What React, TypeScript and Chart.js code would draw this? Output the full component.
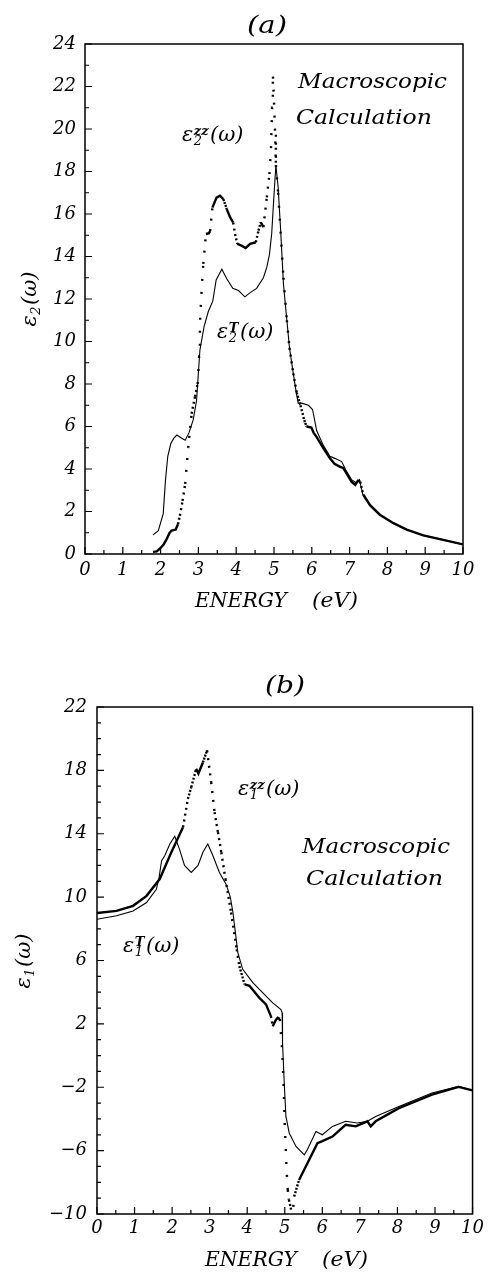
import React, { useEffect, useRef } from "react";
import { Chart, registerables } from "chart.js";

Chart.register(...registerables);

const FONT = '"DejaVu Serif", serif';

// ---------- tick labels ----------
const energyTicks = [0, 1, 2, 3, 4, 5, 6, 7, 8, 9, 10];
const eps2TickLabels = [0, 2, 4, 6, 8, 10, 12, 14, 16, 18, 20, 22, 24];
const eps1TickLabels = [-10, -6, -2, 2, 6, 10, 14, 18, 22];

// ---------- panel (a): eps2 ----------
const energyA_T = [1.80, 1.94, 2.07, 2.13, 2.19, 2.27, 2.35, 2.43, 2.56, 2.65, 2.75, 2.86, 2.95, 3.04, 3.15, 3.26, 3.38, 3.47, 3.62, 3.75, 3.91, 4.06, 4.23, 4.37, 4.54, 4.72, 4.81, 4.88, 4.94, 5.00, 5.05, 5.11, 5.18, 5.25, 5.34, 5.41, 5.51, 5.58, 5.64, 5.73, 5.91, 6.02, 6.13, 6.31, 6.48, 6.61, 6.79, 6.90, 7.05, 7.17, 7.26, 7.35, 7.54, 7.80, 8.16, 8.51, 8.95, 9.39, 10.0];
const eps2_T = [0.9, 1.1, 1.9, 3.5, 4.6, 5.2, 5.45, 5.6, 5.45, 5.35, 5.7, 6.3, 7.2, 9.6, 10.7, 11.4, 11.9, 12.9, 13.4, 12.95, 12.5, 12.4, 12.1, 12.3, 12.5, 13.0, 13.5, 14.1, 15.1, 16.9, 18.3, 17.25, 15.1, 12.7, 11.0, 9.7, 8.5, 7.7, 7.1, 7.1, 7.0, 6.8, 5.8, 5.1, 4.6, 4.5, 4.35, 3.95, 3.5, 3.35, 3.5, 2.8, 2.3, 1.85, 1.45, 1.15, 0.87, 0.7, 0.45];

const energyA_zz = [1.80, 1.90, 1.98, 2.08, 2.16, 2.24, 2.29, 2.40, 2.46, 2.51, 2.58, 2.65, 2.73, 2.82, 2.91, 2.98, 3.02, 3.04, 3.09, 3.13, 3.20, 3.28, 3.31, 3.37, 3.48, 3.57, 3.66, 3.75, 3.84, 3.92, 3.97, 4.03, 4.14, 4.25, 4.37, 4.52, 4.59, 4.65, 4.72, 4.81, 4.88, 4.92, 4.95, 4.97, 5.00, 5.03, 5.05, 5.11, 5.18, 5.25, 5.34, 5.41, 5.51, 5.60, 5.70, 5.80, 5.86, 5.99, 6.05, 6.13, 6.30, 6.48, 6.60, 6.75, 6.83, 6.90, 7.05, 7.15, 7.22, 7.28, 7.36, 7.54, 7.80, 8.16, 8.51, 8.95, 9.39, 10.0];
const eps2_zz = [0.10, 0.12, 0.25, 0.45, 0.70, 1.00, 1.10, 1.15, 1.40, 1.80, 2.50, 3.30, 5.00, 6.60, 7.40, 8.00, 9.30, 10.8, 12.6, 13.65, 15.06, 15.1, 15.2, 16.3, 16.77, 16.86, 16.7, 16.23, 15.84, 15.6, 15.06, 14.59, 14.51, 14.4, 14.6, 14.67, 15.22, 15.61, 15.38, 16.78, 17.88, 19.05, 21.0, 22.6, 21.3, 19.8, 18.3, 17.0, 15.0, 13.0, 11.0, 9.7, 8.5, 7.6, 7.0, 6.3, 6.0, 5.95, 5.7, 5.5, 5.0, 4.5, 4.25, 4.1, 4.05, 3.85, 3.4, 3.25, 3.45, 3.4, 2.8, 2.3, 1.85, 1.45, 1.15, 0.88, 0.7, 0.45];

// ---------- panel (b): eps1 ----------
const energyB_T = [0, 0.52, 0.96, 1.32, 1.58, 1.65, 1.72, 1.80, 1.94, 2.07, 2.20, 2.33, 2.51, 2.69, 2.82, 2.95, 3.09, 3.26, 3.44, 3.55, 3.62, 3.75, 3.88, 4.15, 4.41, 4.68, 4.90, 4.93, 4.94, 4.99, 5.03, 5.12, 5.30, 5.52, 5.60, 5.83, 6.00, 6.27, 6.62, 6.93, 7.20, 7.42, 8.04, 8.92, 9.63, 10.0];
const eps1_T = [8.6, 8.82, 9.13, 9.66, 10.5, 11.2, 12.3, 12.6, 13.35, 13.84, 13.0, 12.0, 11.56, 12.0, 12.83, 13.35, 12.6, 11.56, 10.8, 10.0, 9.03, 6.5, 5.44, 4.6, 3.97, 3.33, 2.9, 2.7, 0.8, -1.94, -3.84, -4.9, -5.74, -6.27, -5.95, -4.79, -5.0, -4.47, -4.15, -4.26, -4.15, -3.84, -3.21, -2.36, -1.94, -2.2];

const energyB_zz = [0, 0.52, 0.96, 1.32, 1.67, 1.98, 2.29, 2.42, 2.51, 2.64, 2.70, 2.82, 2.93, 3.04, 3.13, 3.22, 3.31, 3.42, 3.57, 3.72, 3.79, 3.93, 4.06, 4.32, 4.50, 4.63, 4.68, 4.75, 4.81, 4.87, 4.93, 4.97, 5.00, 5.03, 5.05, 5.08, 5.11, 5.16, 5.20, 5.25, 5.38, 5.65, 5.87, 6.00, 6.27, 6.62, 6.89, 7.20, 7.29, 7.42, 8.04, 8.92, 9.63, 10.0];
const eps1_zz = [9.0, 9.13, 9.45, 10.08, 11.14, 12.83, 14.41, 16.2, 16.94, 18.1, 17.8, 18.5, 19.26, 17.26, 15.36, 14.1, 12.83, 11.14, 9.03, 6.7, 5.65, 4.49, 4.4, 3.65, 3.23, 2.49, 1.85, 2.2, 2.38, 2.3, 0.38, -1.94, -4.37, -6.06, -7.32, -8.48, -9.1, -9.6, -10.3, -8.9, -7.85, -6.58, -5.53, -5.4, -5.11, -4.37, -4.47, -4.15, -4.47, -4.15, -3.32, -2.47, -1.98, -2.2];

function toPoints(xs: number[], ys: number[]) {
  const n = Math.min(xs.length, ys.length);
  const out: { x: number; y: number }[] = [];
  for (let i = 0; i < n; i++) out.push({ x: xs[i], y: ys[i] });
  return out;
}

// dotted curve: dots sampled evenly in energy -> dense (solid) where flat, sparse where steep
const dotDash = (c: any) => {
  const dx = Math.abs(c.p1.x - c.p0.x);
  const dy = Math.abs(c.p1.y - c.p0.y);
  const len = Math.hypot(dx, dy);
  if (len < 0.01) return [];
  let spacing = (1.0 * len) / Math.max(dx, 0.05);
  if (spacing < 2.8) return [];
  spacing = Math.min(spacing, 13);
  return [2, spacing - 2];
};

function fitText(ctx: CanvasRenderingContext2D, text: string, x: number, base: number, size: number, w: number) {
  ctx.save();
  ctx.font = `italic ${size}px ${FONT}`;
  const m = ctx.measureText(text).width;
  ctx.translate(x, base);
  ctx.scale(w / m, 1);
  ctx.textAlign = "left";
  ctx.textBaseline = "alphabetic";
  ctx.fillText(text, 0, 0);
  ctx.restore();
}

function mathWidth(ctx: CanvasRenderingContext2D, sub: string, sup: string, size: number) {
  ctx.font = `italic ${size}px ${FONT}`;
  const w1 = ctx.measureText("\u03b5").width;
  const w3 = ctx.measureText("(\u03c9)").width;
  const s = Math.round(size * 0.6);
  ctx.font = `italic ${s}px ${FONT}`;
  const ws = Math.max(sup ? ctx.measureText(sup).width : 0, ctx.measureText(sub).width);
  return w1 + ws + 2 + w3;
}

function drawMath(ctx: CanvasRenderingContext2D, x: number, base: number, sub: string, sup: string, size: number) {
  ctx.save();
  ctx.textAlign = "left";
  ctx.textBaseline = "alphabetic";
  ctx.fillStyle = "#000";
  ctx.font = `italic ${size}px ${FONT}`;
  ctx.fillText("\u03b5", x, base);
  const w1 = ctx.measureText("\u03b5").width;
  const s = Math.round(size * 0.6);
  ctx.font = `italic ${s}px ${FONT}`;
  let ws = ctx.measureText(sub).width;
  if (sup) {
    ctx.font = `italic bold ${s}px ${FONT}`;
    ws = Math.max(ws, ctx.measureText(sup).width);
    ctx.fillText(sup, x + w1 + 0.5, base - size * 0.3);
  }
  ctx.font = `italic ${s}px ${FONT}`;
  ctx.fillText(sub, x + w1 + 0.5, base + size * 0.2);
  ctx.font = `italic ${size}px ${FONT}`;
  ctx.fillText("(\u03c9)", x + w1 + ws + 2, base);
  ctx.restore();
}

type PanelCfg = {
  height: number;
  top: number;
  padTop: number;
  padRight: number;
  yWidth: number;
  xHeight: number;
  xPad: number;
  yPad: number;
  yMin: number;
  yMax: number;
  yTicks: number[];
  datasets: any[];
  annotate: (ctx: CanvasRenderingContext2D) => void;
};

function makeDecor(cfg: PanelCfg) {
  return {
    id: "decor",
    afterDraw(chart: any) {
      const { ctx, chartArea: a } = chart;
      const xs = chart.scales.x;
      const ys = chart.scales.y;
      ctx.save();
      ctx.strokeStyle = "#000";
      ctx.fillStyle = "#000";
      ctx.lineWidth = 1.5;
      ctx.strokeRect(a.left, a.top, a.right - a.left, a.bottom - a.top);
      ctx.lineWidth = 1.2;
      ctx.beginPath();
      for (let v = xs.min; v <= xs.max + 1e-9; v += 0.5) {
        const px = xs.getPixelForValue(v);
        const major = Math.abs(v - Math.round(v)) < 1e-6;
        ctx.moveTo(px, a.bottom);
        ctx.lineTo(px, a.bottom - (major ? 7 : 4));
      }
      for (let v = ys.min; v <= ys.max + 1e-9; v += 1) {
        const py = ys.getPixelForValue(v);
        const major = cfg.yTicks.indexOf(Math.round(v)) >= 0;
        ctx.moveTo(a.left, py);
        ctx.lineTo(a.left + (major ? 7 : 4), py);
      }
      ctx.stroke();
      cfg.annotate(ctx);
      ctx.restore();
    },
  };
}

function Panel({ cfg }: { cfg: PanelCfg }) {
  const ref = useRef<HTMLCanvasElement>(null);
  useEffect(() => {
    const tickFont = { family: FONT, style: "italic" as const, size: 18 };
    const chart = new Chart(ref.current as HTMLCanvasElement, {
      type: "line",
      data: { datasets: cfg.datasets },
      options: {
        responsive: false,
        animation: false,
        events: [],
        layout: { padding: { left: 0, top: cfg.padTop, right: cfg.padRight, bottom: 0 } },
        plugins: { legend: { display: false }, tooltip: { enabled: false }, title: { display: false } },
        scales: {
          x: {
            type: "linear",
            min: 0,
            max: 10,
            afterBuildTicks: (s: any) => {
              s.ticks = energyTicks.map((v) => ({ value: v }));
            },
            ticks: { font: tickFont, color: "#000", padding: cfg.xPad, maxRotation: 0, autoSkip: false },
            grid: { display: false, drawTicks: false },
            border: { display: false },
            afterFit: (s: any) => {
              s.height = cfg.xHeight;
            },
          },
          y: {
            type: "linear",
            min: cfg.yMin,
            max: cfg.yMax,
            afterBuildTicks: (s: any) => {
              s.ticks = cfg.yTicks.map((v) => ({ value: v }));
            },
            ticks: {
              font: tickFont,
              color: "#000",
              padding: cfg.yPad,
              autoSkip: false,
              callback: (v: any) => String(v).replace("-", "\u2212"),
            },
            grid: { display: false, drawTicks: false },
            border: { display: false },
            afterFit: (s: any) => {
              s.width = cfg.yWidth;
            },
          },
        },
      } as any,
      plugins: [makeDecor(cfg)],
    });
    return () => chart.destroy();
  }, []);
  return (
    <canvas
      ref={ref}
      width={488}
      height={cfg.height}
      style={{ position: "absolute", left: 0, top: cfg.top, width: 488, height: cfg.height, display: "block" }}
    />
  );
}

const solidStyle = { borderColor: "#000", borderWidth: 1.1, pointRadius: 0, tension: 0, fill: false };
const dottedStyle = {
  borderColor: "#000",
  borderWidth: 2.4,
  pointRadius: 0,
  tension: 0,
  fill: false,
  borderCapStyle: "butt",
  segment: { borderDash: dotDash },
};

const panelA: PanelCfg = {
  height: 640,
  top: 0,
  padTop: 44,
  padRight: 25,
  yWidth: 85,
  xHeight: 86,
  xPad: 6,
  yPad: 9,
  yMin: 0,
  yMax: 24,
  yTicks: eps2TickLabels,
  datasets: [
    { label: "eps2 T", data: toPoints(energyA_T, eps2_T), ...solidStyle },
    { label: "eps2 zz", data: toPoints(energyA_zz, eps2_zz), ...dottedStyle },
  ],
  annotate: (ctx) => {
    fitText(ctx, "(a)", 247, 33, 24, 40);
    fitText(ctx, "Macroscopic", 298, 88, 20, 149);
    fitText(ctx, "Calculation", 296, 124, 20, 136);
    drawMath(ctx, 182, 141, "2", "zz", 21);
    drawMath(ctx, 217, 338, "2", "T", 21);
    fitText(ctx, "ENERGY", 195, 607, 20, 92);
    fitText(ctx, "(eV)", 312, 607, 20, 46);
    ctx.save();
    ctx.translate(36, 299);
    ctx.rotate(-Math.PI / 2);
    const w = mathWidth(ctx, "2", "", 21);
    drawMath(ctx, -w / 2, 0, "2", "", 21);
    ctx.restore();
  },
};

const panelB: PanelCfg = {
  height: 652,
  top: 620,
  padTop: 87,
  padRight: 14,
  yWidth: 97,
  xHeight: 58,
  xPad: 4,
  yPad: 10,
  yMin: -10,
  yMax: 22,
  yTicks: eps1TickLabels,
  datasets: [
    { label: "eps1 T", data: toPoints(energyB_T, eps1_T), ...solidStyle },
    { label: "eps1 zz", data: toPoints(energyB_zz, eps1_zz), ...dottedStyle },
  ],
  annotate: (ctx) => {
    fitText(ctx, "(b)", 265, 73, 24, 40);
    drawMath(ctx, 238, 175, "1", "zz", 21);
    fitText(ctx, "Macroscopic", 302, 233, 20, 148);
    fitText(ctx, "Calculation", 306, 265, 20, 137);
    drawMath(ctx, 123, 332, "1", "T", 21);
    fitText(ctx, "ENERGY", 205, 646, 20, 92);
    fitText(ctx, "(eV)", 322, 646, 20, 46);
    ctx.save();
    ctx.translate(30, 341);
    ctx.rotate(-Math.PI / 2);
    const w = mathWidth(ctx, "1", "", 21);
    drawMath(ctx, -w / 2, 0, "1", "", 21);
    ctx.restore();
  },
};

export default function App() {
  return (
    <div
      style={{
        position: "fixed",
        left: 0,
        top: 0,
        width: 488,
        height: 1272,
        overflow: "hidden",
        background: "#fff",
      }}
    >
      <Panel cfg={panelA} />
      <Panel cfg={panelB} />
    </div>
  );
}
